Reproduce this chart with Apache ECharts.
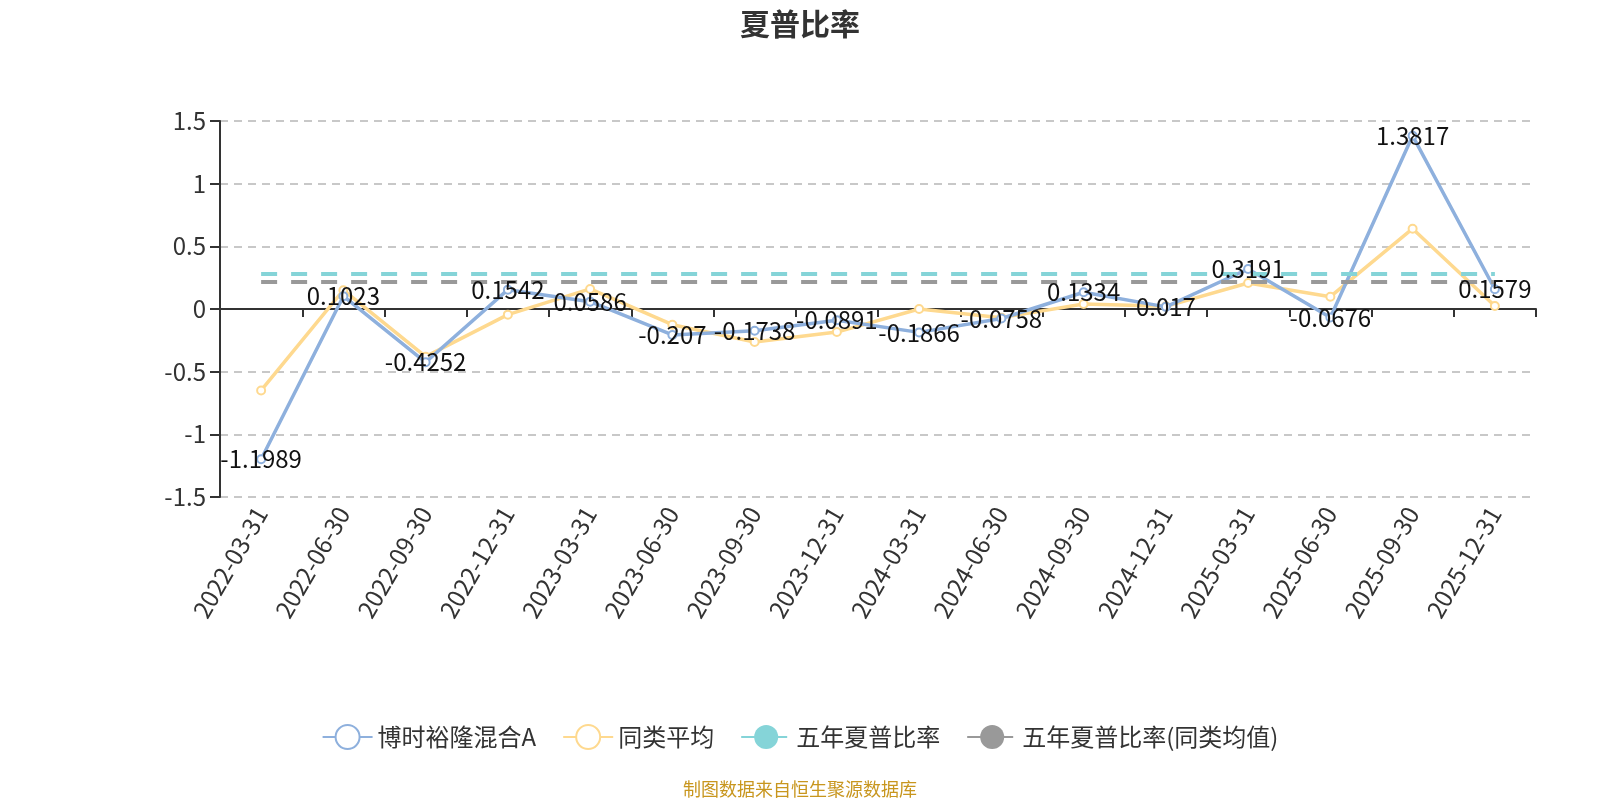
<!DOCTYPE html>
<html lang="zh">
    <head>
        <meta charset="UTF-8">
        <script src="https://cdn.jsdelivr.net/npm/echarts@6/dist/echarts.min.js"></script>
        <title>夏普比率</title>
        <style>
            body { margin: 0; background: #fff; }
        </style>
    </head>
    <body>
        <div id="chart-container" style="width: 1600px; height: 800px;"></div>

        <script>
            // report dates on the x axis
            const categories = ['2022-03-31', '2022-06-30', '2022-09-30', '2022-12-31', '2023-03-31', '2023-06-30',
                '2023-09-30', '2023-12-31', '2024-03-31', '2024-06-30', '2024-09-30', '2024-12-31',
                '2025-03-31', '2025-06-30', '2025-09-30', '2025-12-31'];

            // fund sharpe ratio
            const fundValues = [-1.1989, 0.1023, -0.4252, 0.1542, 0.0586, -0.207, -0.1738, -0.0891,
                -0.1866, -0.0758, 0.1334, 0.017, 0.3191, -0.0676, 1.3817, 0.1579];
            // peer average
            const peerValues = [-0.65, 0.15, -0.38, -0.045, 0.16, -0.125, -0.263, -0.184,
                0.0, -0.069, 0.04, 0.021, 0.207, 0.098, 0.641, 0.024];
            // five year sharpe ratio, fund and peer average
            const fiveYearFund = 0.279;
            const fiveYearPeer = 0.215;

            const yTicks = { min: -1.5, max: 1.5, interval: 0.5 };

            const seriesNames = ['博时裕隆混合A', '同类平均', '五年夏普比率', '五年夏普比率(同类均值)'];
            const colors = ['#8eb0dd', '#fed98f', '#85d4d8', '#999999'];

            const fontFamily = '"Noto Sans CJK SC", "Noto Sans", sans-serif';

            const chart = echarts.init(document.getElementById('chart-container'));
            const options = {
                textStyle: { fontFamily: fontFamily },
                title: {
                    text: '夏普比率',
                    left: 'center',
                    top: 4,
                    textStyle: { fontSize: 30, fontWeight: 'bold', color: '#333', fontFamily: fontFamily }
                },
                legend: {
                    data: seriesNames,
                    top: 719,
                    left: 'center',
                    itemWidth: 50,
                    itemHeight: 30,
                    itemGap: 26,
                    textStyle: { fontSize: 24, color: '#333' }
                },
                graphic: [{
                    type: 'text',
                    left: 'center',
                    top: 780,
                    style: { text: '制图数据来自恒生聚源数据库', fill: '#c8961e', fontSize: 18, fontFamily: fontFamily }
                }],
                grid: { left: 220, right: 64, top: 121, bottom: 303 },
                xAxis: [{
                    type: 'category',
                    data: categories,
                    position: 'bottom',
                    axisLine: { show: false, onZero: false },
                    axisTick: { show: false },
                    axisLabel: { rotate: 60, fontSize: 24, color: '#333', interval: 0, margin: 12 }
                }, {
                    type: 'category',
                    data: categories,
                    position: 'bottom',
                    axisLine: { show: true, onZero: true, lineStyle: { color: '#333', width: 2 } },
                    axisTick: { show: true, length: 8, lineStyle: { color: '#333', width: 2 } },
                    axisLabel: { show: false }
                }],
                yAxis: {
                    type: 'value',
                    min: yTicks.min,
                    max: yTicks.max,
                    interval: yTicks.interval,
                    axisLine: { show: true, lineStyle: { color: '#333', width: 2 } },
                    axisTick: { show: true, length: 10, lineStyle: { color: '#333', width: 2 } },
                    axisLabel: { fontSize: 24, color: '#333', margin: 14 },
                    splitLine: { lineStyle: { type: [8, 6], color: '#c8c8c8', width: 2 } }
                },
                series: [{
                    name: seriesNames[0],
                    type: 'line',
                    data: fundValues,
                    symbol: 'emptyCircle',
                    symbolSize: 8,
                    z: 3,
                    itemStyle: { color: colors[0] },
                    lineStyle: { width: 3.5, color: colors[0] },
                    label: { show: true, position: 'inside', fontSize: 24, color: '#111' }
                }, {
                    name: seriesNames[1],
                    type: 'line',
                    data: peerValues,
                    symbol: 'emptyCircle',
                    symbolSize: 8,
                    z: 2,
                    itemStyle: { color: colors[1] },
                    lineStyle: { width: 3.5, color: colors[1] }
                }, {
                    name: seriesNames[2],
                    type: 'line',
                    data: categories.map(() => fiveYearFund),
                    symbol: 'circle',
                    showSymbol: false,
                    itemStyle: { color: colors[2] },
                    lineStyle: { width: 4, type: [16, 14], color: colors[2] }
                }, {
                    name: seriesNames[3],
                    type: 'line',
                    data: categories.map(() => fiveYearPeer),
                    symbol: 'circle',
                    showSymbol: false,
                    itemStyle: { color: colors[3] },
                    lineStyle: { width: 4, type: [16, 14], color: colors[3] }
                }]
            };
            chart.setOption(options);
        </script>
    </body>
</html>
